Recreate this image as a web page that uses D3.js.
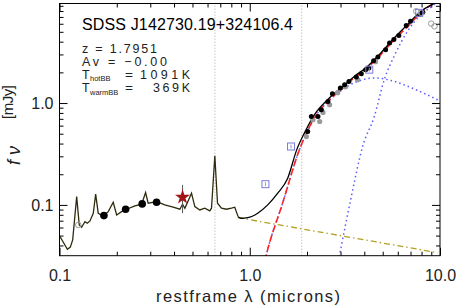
<!DOCTYPE html>
<html>
<head>
<meta charset="utf-8">
<script src="https://cdn.jsdelivr.net/npm/d3@7"></script>
<style>
  body { margin: 0; background: #fff; }
  svg { display: block; font-family: "Liberation Sans", Arial, sans-serif; }
</style>
</head>
<body>
<svg id="sed" width="458" height="305"></svg>
<script>
// Observed spectrum, restframe microns vs mJy
const SPECTRUM = [
    [0.1006, 0.0488], [0.1040, 0.0440], [0.1100, 0.0367], [0.1140, 0.0385], [0.1173, 0.0453],
    [0.1231, 0.1207], [0.1270, 0.0636], [0.1307, 0.0603], [0.1361, 0.0685], [0.1400, 0.0660],
    [0.1446, 0.0696], [0.1505, 0.0829], [0.1549, 0.1274], [0.1598, 0.0829], [0.1698, 0.0780],
    [0.1804, 0.0859], [0.1916, 0.1063], [0.1997, 0.0797], [0.2121, 0.0859], [0.2253, 0.0907],
    [0.2491, 0.0978], [0.2701, 0.1016], [0.2835, 0.1321], [0.2925, 0.1039], [0.3238, 0.1077],
    [0.3579, 0.1000], [0.3957, 0.0949], [0.4291, 0.0907], [0.4434, 0.1016], [0.4560, 0.0928],
    [0.4943, 0.1303], [0.5144, 0.0962], [0.5464, 0.0893], [0.5804, 0.0928], [0.6166, 0.0873],
    [0.6295, 0.0928], [0.6553, 0.3033], [0.6769, 0.1039], [0.7103, 0.0928], [0.7546, 0.0907],
    [0.8015, 0.0928], [0.8343, 0.0949], [0.8683, 0.0767],
];

// Total model (power law + hot BB + warm BB)
const MODEL_TOTAL = [
    [0.8683, 0.0767], [0.900, 0.0740], [0.976, 0.0750], [1.101, 0.0829], [1.243, 0.100],
    [1.403, 0.1303], [1.583, 0.183], [1.765, 0.347], [1.937, 0.507], [2.186, 0.767],
    [2.567, 1.078], [3.015, 1.404], [3.545, 1.826], [4.163, 2.290], [4.889, 3.102],
    [5.749, 4.357], [6.752, 5.888], [7.929, 7.958], [9.703, 9.98], [10.0, 10.4],
];

// Sum of the two blackbodies
const MODEL_DUST = [
    [1.20, 0.028], [1.218, 0.0315], [1.490, 0.1047], [1.824, 0.3473], [2.186, 0.712],
    [2.567, 1.030], [3.015, 1.351], [3.545, 1.774], [4.163, 2.224], [4.889, 2.985],
    [5.749, 4.193], [6.752, 5.627], [7.929, 7.726], [9.94, 10.14],
];

const HOT_BB = [
    [1.20, 0.028], [1.218, 0.0315], [1.490, 0.1047], [1.824, 0.3473], [2.186, 0.712],
    [2.567, 1.030], [3.015, 1.321], [3.689, 1.631], [4.515, 1.762], [5.749, 1.631],
    [7.32, 1.373], [9.703, 1.078], [10.0, 1.05],
];

const WARM_BB = [
    [2.92, 0.028], [2.957, 0.0315], [3.390, 0.112], [3.920, 0.3744], [4.515, 0.738],
    [5.094, 1.695], [5.749, 2.90], [6.752, 5.058], [7.777, 7.105], [9.324, 9.26], [10.0, 10.5],
];

const POWER_LAW = [[0.865, 0.0750], [9.703, 0.0340]];

// Photometry
const PHOT_UV = [[0.1712, 0.0785], [0.2226, 0.0907], [0.2720, 0.1023], [0.3238, 0.1063]];
const PHOT_IR = [
    [2.016, 0.526], [2.108, 0.738], [2.283, 0.738], [2.379, 0.859], [2.576, 1.037],
    [2.718, 1.234], [2.993, 1.405], [3.153, 1.513], [3.321, 1.631], [3.632, 1.802],
    [3.858, 1.941], [4.064, 2.126], [4.229, 2.209], [4.477, 2.605], [4.716, 2.834],
    [5.176, 3.343], [5.431, 3.890], [5.722, 4.193], [6.076, 4.589], [6.646, 5.756],
    [7.000, 6.345], [7.806, 7.383], [8.123, 7.779],
];
const PHOT_IR_ALT = [
    [1.984, 0.469], [2.149, 0.685], [2.331, 0.659], [2.426, 0.808], [2.630, 0.962],
    [2.897, 1.263], [3.191, 1.446], [3.689, 1.695], [4.585, 2.548],
];
const PHOT_OPEN = [[0.1255, 0.0636], [7.502, 7.958], [7.967, 7.674], [8.991, 6.023], [9.357, 5.666]];
const MODEL_PHOT = [[1.209, 0.1598], [1.648, 0.3744], [4.249, 2.126], [7.777, 7.674]];
const STAR_POINT = { lam: 0.4434, f: 0.119, lo: 0.0829, hi: 0.1573 };

const LINE_MARKERS = [0.6563, 1.875];
const X_MAJOR = [0.1, 1, 10];
const X_LABELS = ['0.1', '1.0', '10.0'];
const Y_MAJOR = [0.1, 1];
const Y_LABELS = ['0.1', '1.0'];

const svg = d3.select('#sed');
const x = d3.scaleLog().domain([0.1, 10]).range([59.5, 440]);
const y = d3.scaleLog().domain([Math.pow(10, -1.4985), Math.pow(10, 0.977)]).range([255.7, 3.5]);
const [x0, x1] = x.range();
const [y0, y1] = y.range();

svg.append('defs').append('clipPath').attr('id', 'plot')
    .append('rect').attr('x', x0).attr('y', y1).attr('width', x1 - x0).attr('height', y0 - y1);

const g = svg.append('g').attr('clip-path', 'url(#plot)');
const line = d3.line().x(d => x(d[0])).y(d => y(d[1])).curve(d3.curveMonotoneX);

// Emission line markers
g.selectAll('.marker').data(LINE_MARKERS).join('line')
    .attr('x1', d => x(d)).attr('x2', d => x(d))
    .attr('y1', y0).attr('y2', y1)
    .attr('stroke', '#aaa').attr('stroke-width', 1).attr('stroke-dasharray', '1,2');

g.append('path').datum(POWER_LAW).attr('d', d3.line().x(d => x(d[0])).y(d => y(d[1])))
    .attr('fill', 'none').attr('stroke', '#b3a124').attr('stroke-width', 1.3)
    .attr('stroke-dasharray', '6,3,1.5,3');

[HOT_BB, WARM_BB].forEach(data => {
    g.append('path').datum(data).attr('d', line)
        .attr('fill', 'none').attr('stroke', '#5b5bff').attr('stroke-width', 1.5)
        .attr('stroke-dasharray', '1.5,3');
});

g.append('path').datum(MODEL_DUST).attr('d', line)
    .attr('fill', 'none').attr('stroke', '#ff2222').attr('stroke-width', 1.6)
    .attr('stroke-dasharray', '7,3');

g.append('path').datum(SPECTRUM).attr('d', d3.line().x(d => x(d[0])).y(d => y(d[1])))
    .attr('fill', 'none').attr('stroke', '#2e2a0c').attr('stroke-width', 1.3);

g.append('path').datum(MODEL_TOTAL).attr('d', line)
    .attr('fill', 'none').attr('stroke', '#000').attr('stroke-width', 1.3);

// Photometry markers
g.selectAll('.alt').data(PHOT_IR_ALT).join('circle')
    .attr('cx', d => x(d[0])).attr('cy', d => y(d[1])).attr('r', 2.6).attr('fill', '#999');

g.selectAll('.ir').data(PHOT_IR).join('circle')
    .attr('cx', d => x(d[0])).attr('cy', d => y(d[1])).attr('r', 2.5).attr('fill', '#000');

g.selectAll('.uv').data(PHOT_UV).join('circle')
    .attr('cx', d => x(d[0])).attr('cy', d => y(d[1])).attr('r', 3.8).attr('fill', '#000');

g.selectAll('.open').data(PHOT_OPEN).join('circle')
    .attr('cx', d => x(d[0])).attr('cy', d => y(d[1])).attr('r', 2.8)
    .attr('fill', 'none').attr('stroke', '#999').attr('stroke-width', 1);

const sq = g.selectAll('.mphot').data(MODEL_PHOT).join('g')
    .attr('transform', d => `translate(${x(d[0])},${y(d[1])})`);
sq.append('rect').attr('x', -3.5).attr('y', -3.5).attr('width', 7).attr('height', 7)
    .attr('fill', 'none').attr('stroke', '#7b7bd8').attr('stroke-width', 1);
sq.append('line').attr('x1', 0).attr('x2', 0).attr('y1', -2).attr('y2', 2)
    .attr('stroke', '#9a9ad8').attr('stroke-width', 1);

g.append('line')
    .attr('x1', x(STAR_POINT.lam)).attr('x2', x(STAR_POINT.lam))
    .attr('y1', y(STAR_POINT.lo)).attr('y2', y(STAR_POINT.hi))
    .attr('stroke', '#555').attr('stroke-width', 1);
g.append('path')
    .attr('d', d3.symbol(d3.symbolStar).size(70)())
    .attr('transform', `translate(${x(STAR_POINT.lam)},${y(STAR_POINT.f)})`)
    .attr('fill', '#a01515');

// Axes, ticks on all four sides pointing inward
const xMinor = d3.range(2, 10).map(v => v / 10).concat(d3.range(2, 10));
const yMinor = d3.range(4, 10).map(v => v / 100).concat(d3.range(2, 10).map(v => v / 10), d3.range(2, 10));

function drawAxis(axisFn, scale, pos, major, labels, minor, showLabels) {
    const t = svg.append('g').attr('transform', pos);
    t.call(axisFn(scale).tickValues(minor).tickSize(-4).tickFormat(''));
    t.call(g2 => g2.select('.domain').remove());
    const m = svg.append('g').attr('transform', pos);
    m.call(axisFn(scale).tickValues(major).tickSize(-8).tickPadding(showLabels ? 14 : 0)
        .tickFormat((d, i) => showLabels ? labels[i] : ''));
    m.select('.domain').remove();
    return m;
}

drawAxis(d3.axisBottom, x, `translate(0,${y0})`, X_MAJOR, X_LABELS, xMinor, true);
drawAxis(d3.axisTop, x, `translate(0,${y1})`, X_MAJOR, X_LABELS, xMinor, false);
const left = drawAxis(d3.axisLeft, y, `translate(${x0},0)`, Y_MAJOR, Y_LABELS, yMinor, true);
drawAxis(d3.axisRight, y, `translate(${x1},0)`, Y_MAJOR, Y_LABELS, yMinor, false);
left.selectAll('.tick text').attr('x', -6);

svg.selectAll('.tick line').attr('stroke', '#000');
svg.selectAll('.tick text').attr('font-size', 16).attr('fill', '#222')
    .attr('font-family', '"Liberation Sans", Arial, sans-serif');

svg.append('rect').attr('x', x0).attr('y', y1).attr('width', x1 - x0).attr('height', y0 - y1)
    .attr('fill', 'none').attr('stroke', '#000').attr('stroke-width', 1);

// Axis titles
svg.append('text').attr('x', 156).attr('y', 302)
    .attr('font-size', 16.5).attr('fill', '#222')
    .attr('textLength', 184).attr('lengthAdjust', 'spacing').text('restframe λ (microns)');

svg.append('text').attr('transform', 'translate(20,165) rotate(-90)')
    .attr('font-size', 18).attr('font-style', 'italic').attr('fill', '#222')
    .attr('textLength', 19).attr('lengthAdjust', 'spacing').text('fν');
svg.append('text').attr('transform', 'translate(13,119) rotate(-90)')
    .attr('font-size', 15).attr('fill', '#222')
    .attr('textLength', 34).attr('lengthAdjust', 'spacing').text('[mJy]');

// Info block
const info = svg.append('g').attr('fill', '#222');
info.append('text').attr('x', 82).attr('y', 30).attr('font-size', 16).attr('fill', '#000')
    .attr('textLength', 211).attr('lengthAdjust', 'spacing').text('SDSS J142730.19+324106.4');
info.append('text').attr('x', 82).attr('y', 53).attr('font-size', 12.5)
    .attr('textLength', 75).attr('lengthAdjust', 'spacing').text('z = 1.7951');
info.append('text').attr('x', 82).attr('y', 65.5).attr('font-size', 12.5)
    .attr('textLength', 85).attr('lengthAdjust', 'spacing').text('Av = \u22120.00');

const tRows = [
    { sub: 'hotBB', val: '1091K', y: 78.5, w: 50 },
    { sub: 'warmBB', val: '369K', y: 92, w: 37 },
];
tRows.forEach(r => {
    info.append('text').attr('x', 82).attr('y', r.y).attr('font-size', 12.5).text('T');
    info.append('text').attr('x', 90).attr('y', r.y + 2.5).attr('font-size', 7.5).text(r.sub);
    info.append('text').attr('x', 125).attr('y', r.y).attr('font-size', 12.5)
        .attr('textLength', 8).attr('lengthAdjust', 'spacingAndGlyphs').text('=');
    info.append('text').attr('x', 190 - r.w).attr('y', r.y).attr('font-size', 12.5)
        .attr('textLength', r.w).attr('lengthAdjust', 'spacing').text(r.val);
});
</script>
</body>
</html>
